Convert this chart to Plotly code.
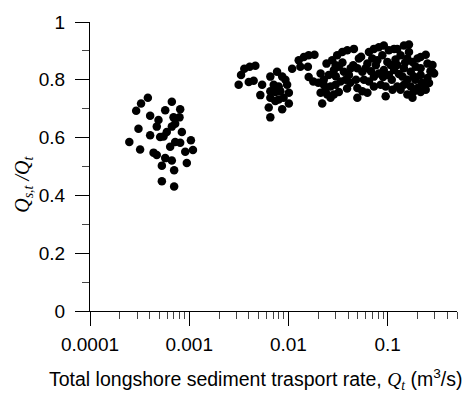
import plotly.graph_objects as go

# Cluster of low transport rates
qt_low = [0.000383, 0.000327, 0.000292, 0.000668, 0.000811, 0.000573, 0.000404, 0.000490,
          0.000695, 0.000798, 0.000471, 0.000308, 0.000668, 0.000594, 0.000404, 0.000843,
          0.000551, 0.000249, 0.000509, 0.000722, 0.000811, 0.000643, 0.000320, 0.00104,
          0.000912, 0.00109, 0.000437, 0.000471, 0.000573, 0.000668, 0.000530, 0.000946,
          0.000705, 0.000530, 0.000705, 0.000722]
ratio_low = [0.738, 0.718, 0.693, 0.724, 0.698, 0.695, 0.676, 0.661,
             0.670, 0.670, 0.638, 0.631, 0.638, 0.619, 0.608, 0.619,
             0.604, 0.585, 0.602, 0.585, 0.582, 0.568, 0.559, 0.591,
             0.551, 0.557, 0.548, 0.540, 0.529, 0.521, 0.503, 0.512,
             0.487, 0.449, 0.431, 0.648]

# Cluster of high transport rates
qt_high = [0.00315, 0.00333, 0.00359, 0.00407, 0.00464, 0.00398, 0.00446, 0.00543, 0.00521,
           0.00657, 0.00768, 0.00865, 0.00932, 0.00711, 0.00798, 0.00970, 0.00657, 0.00738,
           0.00830, 0.0101, 0.00657, 0.00798, 0.00633, 0.00865, 0.0101, 0.00657, 0.00738, 0.00894,
           0.0109, 0.0127, 0.0143, 0.0160, 0.0183, 0.0132, 0.0157, 0.0178,
           0.0211, 0.0242, 0.0276, 0.0310, 0.0349, 0.0392, 0.0457, 0.0513, 0.0227, 0.0255,
           0.0287, 0.0322, 0.0362, 0.0407, 0.0227, 0.0266, 0.0299, 0.0335, 0.0211, 0.0246,
           0.0287, 0.0322, 0.0219, 0.0266, 0.0236, 0.0424, 0.0377,
           0.0495, 0.0556, 0.0625, 0.0648, 0.0727, 0.0815, 0.0915, 0.103, 0.116, 0.0700,
           0.0787, 0.0884, 0.0993, 0.0577, 0.0648, 0.0727, 0.0815, 0.0915, 0.103, 0.0495,
           0.0556, 0.0625, 0.0727, 0.0851, 0.0955, 0.0495, 0.0955, 0.112, 0.125, 0.116, 0.107,
           0.125, 0.146, 0.164, 0.135, 0.158, 0.178, 0.200, 0.215, 0.242, 0.125, 0.146,
           0.171, 0.192, 0.215, 0.252, 0.283, 0.294, 0.141, 0.158, 0.184, 0.215, 0.252,
           0.283, 0.146, 0.171, 0.200, 0.233, 0.261, 0.135, 0.158, 0.184, 0.215, 0.242,
           0.164, 0.178,
           0.0300, 0.0350, 0.0450, 0.0420, 0.0600, 0.0680, 0.0760, 0.0540, 0.0480, 0.0390,
           0.0900, 0.110, 0.120, 0.130, 0.150, 0.190, 0.220, 0.270, 0.0300, 0.0200, 0.0160]
ratio_high = [0.783, 0.817, 0.838, 0.845, 0.849, 0.792, 0.797, 0.783, 0.747,
              0.811, 0.828, 0.811, 0.800, 0.783, 0.777, 0.783, 0.760, 0.758,
              0.760, 0.755, 0.738, 0.732, 0.704, 0.698, 0.718, 0.670, 0.727, 0.738,
              0.838, 0.868, 0.879, 0.885, 0.887, 0.845, 0.845, 0.794,
              0.822, 0.856, 0.868, 0.885, 0.896, 0.902, 0.907, 0.874, 0.800, 0.817,
              0.834, 0.845, 0.828, 0.817, 0.783, 0.777, 0.783, 0.794, 0.755, 0.749,
              0.749, 0.758, 0.718, 0.738, 0.766, 0.840, 0.800,
              0.840, 0.828, 0.856, 0.896, 0.907, 0.913, 0.919, 0.902, 0.907, 0.874,
              0.868, 0.885, 0.862, 0.800, 0.794, 0.811, 0.822, 0.834, 0.817, 0.772,
              0.760, 0.755, 0.777, 0.783, 0.777, 0.738, 0.743, 0.766, 0.777, 0.834, 0.851,
              0.907, 0.919, 0.922, 0.885, 0.874, 0.862, 0.874, 0.879, 0.887, 0.851, 0.840,
              0.828, 0.845, 0.840, 0.856, 0.851, 0.822, 0.811, 0.800, 0.811, 0.817, 0.806,
              0.828, 0.783, 0.777, 0.772, 0.783, 0.789, 0.766, 0.749, 0.760, 0.758, 0.766,
              0.896, 0.738,
              0.812, 0.860, 0.850, 0.790, 0.840, 0.830, 0.850, 0.880, 0.800, 0.770,
              0.810, 0.800, 0.870, 0.820, 0.860, 0.800, 0.790, 0.830, 0.850, 0.790, 0.810]

x_tick_vals = [0.0001, 0.001, 0.01, 0.1]
x_tick_text = ["0.0001", "0.001", "0.01", "0.1"]
y_tick_vals = [0, 0.2, 0.4, 0.6, 0.8, 1.0]
y_tick_text = ["0", "0.2", "0.4", "0.6", "0.8", "1"]
x_minor_vals = [m * 10.0 ** e for e in range(-4, 0) for m in range(2, 10) if m * 10.0 ** e <= 0.5]

FONT = "Arial, Liberation Sans, sans-serif"
SERIF = "Liberation Serif"

fig = go.Figure()
marker = dict(color="black", size=8.5, line=dict(width=0))
fig.add_trace(go.Scatter(x=qt_low, y=ratio_low, mode="markers", marker=marker,
                         showlegend=False, cliponaxis=False))
fig.add_trace(go.Scatter(x=qt_high, y=ratio_high, mode="markers", marker=marker,
                         showlegend=False, cliponaxis=False))

fig.update_layout(
    width=476, height=394,
    margin=dict(l=90, r=19, t=15, b=83),
    paper_bgcolor="white", plot_bgcolor="white",
    font=dict(family=FONT, size=19, color="black"),
    xaxis=dict(
        type="log", range=[-4, -0.30103],
        tickmode="array", tickvals=x_tick_vals, ticktext=x_tick_text,
        ticks="outside", ticklen=14, tickwidth=1, tickcolor="black",
        minor=dict(tickvals=x_minor_vals, ticks="outside", ticklen=7, tickcolor="#444", tickwidth=1),
        showline=True, linecolor="black", linewidth=1,
        showgrid=False, zeroline=False, ticklabelstandoff=2,
        tickfont=dict(family=FONT, size=19),
    ),
    yaxis=dict(
        range=[0, 1],
        tickmode="array", tickvals=y_tick_vals, ticktext=y_tick_text,
        ticks="outside", ticklen=14, tickwidth=1, tickcolor="black",
        minor=dict(dtick=0.1, tick0=0, ticks="outside", ticklen=7, tickcolor="#444", tickwidth=1),
        showline=True, linecolor="black", linewidth=1,
        showgrid=False, zeroline=False, ticklabelstandoff=6,
        tickfont=dict(family=FONT, size=19),
    ),
    annotations=[
        dict(text=("Total longshore sediment trasport rate, "
                   f"<span style='font-family:{SERIF}'><i>Q<sub>t</sub></i></span> (m<sup>3</sup>/s)"),
             xref="paper", yref="paper", x=0.452, y=-0.237, xanchor="center", yanchor="middle",
             showarrow=False, font=dict(family=FONT, size=19.5)),
        dict(text=(f"<span style='font-family:{SERIF}'><i>Q<sub>s,t</sub> /Q<sub>t</sub></i></span>"),
             xref="paper", yref="paper", x=-0.18, y=0.44, xanchor="center", yanchor="middle",
             textangle=-90, showarrow=False, font=dict(family=SERIF, size=20)),
    ],
)

fig.write_html("out.html")
